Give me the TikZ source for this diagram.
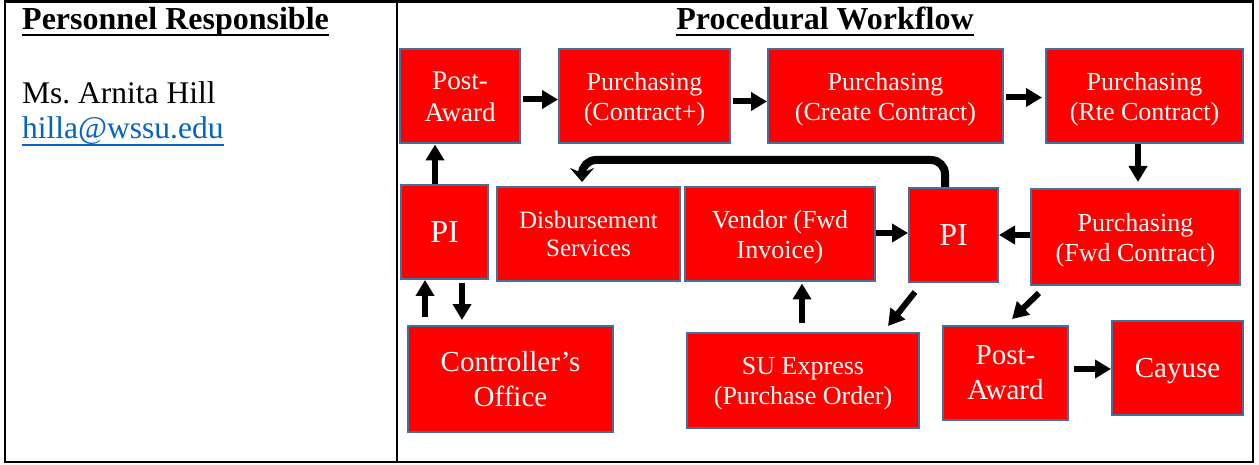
\documentclass[tikz,border=0pt]{standalone}
\usepackage{fontspec}
\setmainfont{Liberation Serif}
\usetikzlibrary{arrows.meta,positioning,calc}
\definecolor{flowRed}{RGB}{255,0,0}
\definecolor{flowEdge}{RGB}{65,113,156}
\definecolor{linkBlue}{RGB}{5,99,193}

\begin{document}
\begin{tikzpicture}[x=1pt,y=-1pt,
    stage/.style={draw=flowEdge,fill=flowRed,text=white,line width=2pt,
                  align=center,inner sep=0pt,minimum height=94pt,text depth=0pt,
                  font=\fontsize{26}{30}\selectfont},
    big/.style={font=\fontsize{29}{35}\selectfont},
    hdr/.style={font=\fontsize{32}{36}\selectfont\bfseries,inner sep=0pt},
    plain/.style={font=\fontsize{31.5}{36}\selectfont,inner sep=0pt},
    ar/.style={-{Triangle[length=16pt,width=18pt]},line width=6pt},
    back/.style={-{Stealth[length=14pt,width=24pt,inset=5pt]},line width=8pt,
                 rounded corners=14pt}]

    \useasboundingbox (0,0) rectangle (1259,465);

    % table frame
    \draw[line width=2.5pt] (5,1.5) rectangle (1253,462);
    \draw[line width=2.5pt] (397,1.5) -- (397,462);

    % left column
    \node[hdr,anchor=base west] (who) at (22,30) {Personnel Responsible};
    \draw[line width=2.5pt] ($(who.base west)+(0,5)$) -- ($(who.base east)+(0,5)$);
    \node[plain,anchor=base west] (name) at (22,104) {Ms.\ Arnita Hill};
    \node[plain,anchor=base west,text=linkBlue] (mail) at (22,139) {hilla@wssu.edu};
    \draw[linkBlue,line width=2pt] ($(mail.base west)+(0,6)$) -- ($(mail.base east)+(0,6)$);

    % right column
    \node[hdr,anchor=base] (how) at (825,30) {Procedural Workflow};
    \draw[line width=2.5pt] ($(how.base west)+(0,5)$) -- ($(how.base east)+(0,5)$);

    \node[stage,minimum width=120pt,font=\fontsize{27}{32}\selectfont] (award) at (460,96.5) {Post-\\Award};
    \node[stage,minimum width=171pt] (contract) at (644.5,96.5) {Purchasing\\(Contract+)};
    \node[stage,minimum width=235pt] (create) at (885.5,96.5) {Purchasing\\(Create Contract)};
    \node[stage,minimum width=197pt] (route) at (1144.5,96.5) {Purchasing\\(Rte Contract)};

    \node[stage,minimum width=87pt,font=\fontsize{32}{36}\selectfont] (piA) at (444.5,232) {PI};
    \node[stage,minimum width=183pt,font=\fontsize{25}{28}\selectfont] (disb) at (588.5,234) {Disbursement\\Services};
    \node[stage,minimum width=190pt] (vendor) at (780,234.5) {Vendor (Fwd\\Invoice)};
    \node[stage,minimum width=89pt,font=\fontsize{32}{36}\selectfont] (piB) at (953.5,235) {PI};
    \node[stage,minimum width=209pt,minimum height=96pt] (fwd) at (1135.5,237) {Purchasing\\(Fwd Contract)};

    \node[stage,big,minimum width=205pt,minimum height=106pt] (ctrl) at (510.5,379) {Controller’s\\Office};
    \node[stage,minimum width=232pt,minimum height=95pt] (suexp) at (803,380.5) {SU Express\\(Purchase Order)};
    \node[stage,big,minimum width=125pt] (award2) at (1005.5,373) {Post-\\Award};
    \node[stage,big,minimum width=131pt] (cayuse) at (1177.5,368) {Cayuse};

    % flow along the top row
    \draw[ar] ([shift={(2,3)}]award.east) -- ([shift={(0,3)}]contract.west);
    \draw[ar] ([shift={(2,5)}]contract.east) -- ([shift={(0,5)}]create.west);
    \draw[ar] ([shift={(2,1)}]create.east) -- ([shift={(-3,1)}]route.west);
    \draw[ar] ([xshift=-6.5]route.south) -- ($(route.south |- fwd.north)+(-6.5,-6)$);

    % middle row
    \draw[ar] ([shift={(0,-2)}]fwd.west) -- ([shift={(0,0)}]piB.east);
    \draw[ar] ([shift={(0,-1.5)}]vendor.east) -- ([shift={(0,-2)}]piB.west);
    \draw[back] ([xshift=-8.5]piB.north) -- ++(0,-27) -| ([shift={(-6.5,-4)}]disb.north);
    \draw[ar] ([xshift=-9.5]piA.north) -- ($(piA.north |- award.south)+(-9.5,0)$);

    % PI and the controller
    \draw[ar] ($(piA.south |- ctrl.north)+(-19.5,-8)$) -- ([xshift=-19.5]piA.south);
    \draw[ar] ([shift={(17.5,3)}]piA.south) -- ($(piA.south |- ctrl.north)+(17.5,-5)$);

    % bottom row
    \draw[ar] ([shift={(-1,-9)}]suexp.north) -- ($(suexp.north |- vendor.south)+(-1,1)$);
    \draw[ar] ([shift={(7,9)}]piB.south west) -- ([shift={(-32,-6)}]suexp.north east);
    \draw[ar] ([shift={(9,7)}]fwd.south west) -- ([shift={(6.5,-6)}]award2.north);
    \draw[ar] ([shift={(5,-4)}]award2.east) -- ([shift={(0,1)}]cayuse.west);
\end{tikzpicture}
\end{document}
